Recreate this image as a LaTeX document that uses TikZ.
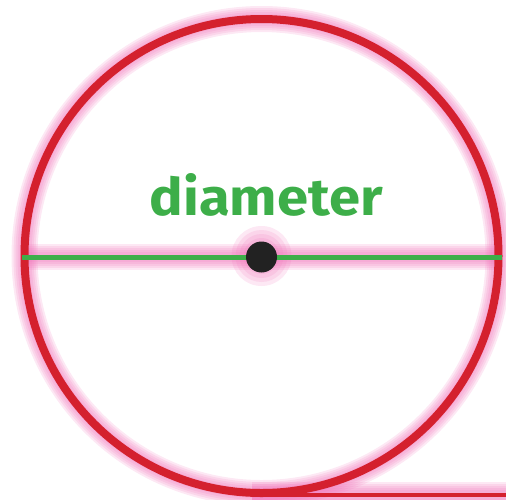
\documentclass[tikz,border=0pt]{standalone}
\usepackage{fontspec}
\setmainfont{Fira Sans}
\usepackage{graphicx}
\definecolor{ringred}{HTML}{D4202E}
\definecolor{diamgreen}{HTML}{3DAE49}
\definecolor{glowpink}{HTML}{F070B8}
\definecolor{dotdark}{HTML}{222222}
\tikzset{
  ring/.style={draw=ringred, line width=8pt},
  diam/.style={draw=diamgreen, line width=5pt},
  tangent/.style={draw=ringred, line width=4.5pt},
  glow/.style={draw=glowpink, line width=#1, opacity=0.16},
  dotnode/.style={circle, fill=dotdark, minimum size=31pt, inner sep=0pt},
  lbl/.style={text=diamgreen, font=\bfseries, inner sep=0pt}
}
\begin{document}
\begin{tikzpicture}[x=1pt,y=-1pt]
\useasboundingbox (0,0) rectangle (506,499);
\coordinate (c) at (261.5,256);
\coordinate (dl) at (22,257);
\coordinate (dr) at (502,257);
\coordinate (tl) at (252,495);
\coordinate (tr) at (506,495);
% glows
\foreach \w in {10,14,18,22,26}{
  \draw[glow=\w pt] (c) circle (237);
  \draw[glow=\w pt] (dl) -- (dr);
  \draw[glow=\w pt] (tl) -- (tr);
}
\foreach \r in {18,22,26,30}{
  \fill[glowpink, opacity=0.16] (c) circle (\r);
}
\draw[ring] (c) circle (237);
\draw[tangent] (tl) -- (tr);
\draw[diam] (dl) -- (dr);
\node[dotnode] (dot) at (261.5,257) {};
\node[lbl] (label) at (266,195) {\resizebox{233pt}{42pt}{diameter}};
\end{tikzpicture}
\end{document}
